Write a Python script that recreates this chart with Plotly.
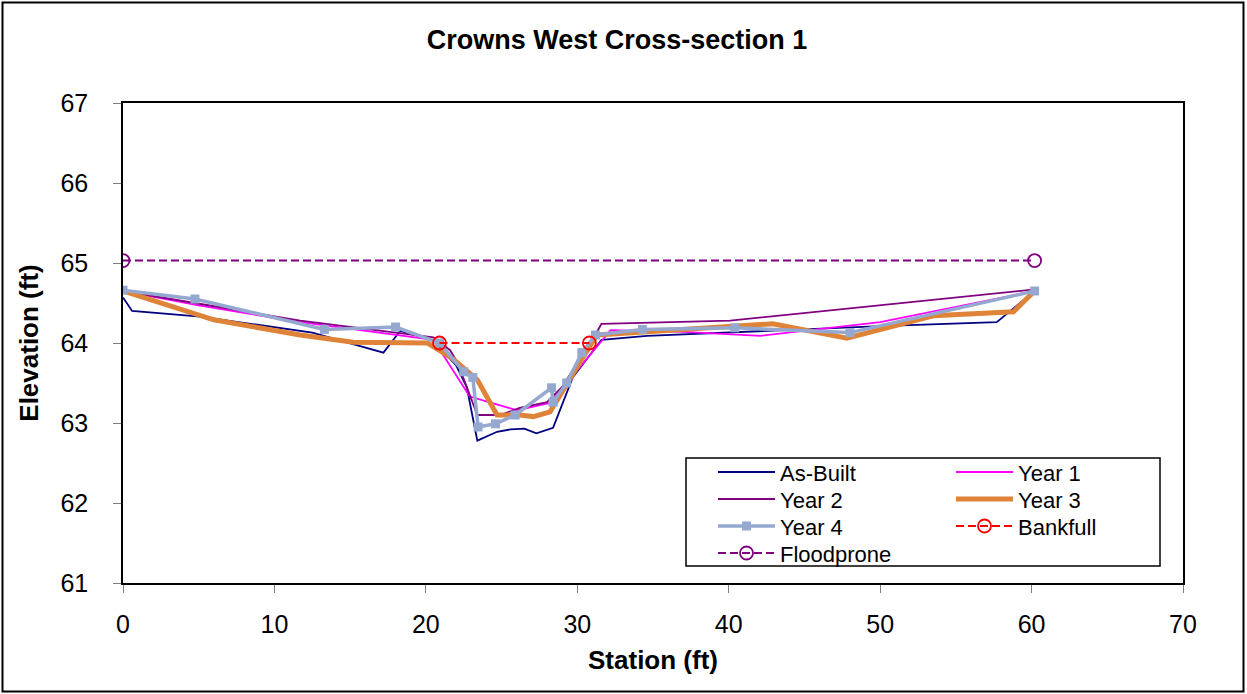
import plotly.graph_objects as go

# ---------------- data ----------------
asbuilt_x = [0, 0.6, 5.1, 12.5, 17.2, 18.3, 20.5, 22.0, 22.7, 23.4, 24.7, 25.6, 26.5, 27.3, 28.4, 29.7, 31.6, 34.6, 50.0, 57.7, 60.2]
asbuilt_y = [64.57, 64.40, 64.33, 64.13, 63.88, 64.15, 64.03, 63.72, 63.45, 62.78, 62.89, 62.92, 62.93, 62.87, 62.94, 63.57, 64.04, 64.09, 64.21, 64.26, 64.65]

year1_x = [0, 5, 11.7, 20.5, 22.9, 26.0, 28.2, 32.2, 37.0, 42.1, 50.0, 60.2]
year1_y = [64.65, 64.47, 64.26, 64.04, 63.33, 63.16, 63.25, 64.16, 64.14, 64.09, 64.26, 64.65]

year2_x = [0, 11.7, 20.5, 21.6, 22.1, 22.7, 23.4, 24.9, 26.2, 28.0, 29.0, 31.3, 31.6, 40.1, 60.2]
year2_y = [64.65, 64.28, 64.07, 63.91, 63.75, 63.45, 63.10, 63.10, 63.19, 63.26, 63.45, 64.14, 64.24, 64.28, 64.67]

year3_x = [0, 6.0, 11.7, 15.2, 20.1, 21.8, 23.4, 24.7, 26.2, 27.1, 28.2, 29.3, 30.4, 31.3, 42.9, 47.8, 53.5, 58.8, 60.2]
year3_y = [64.65, 64.29, 64.10, 64.01, 64.00, 63.80, 63.54, 63.10, 63.10, 63.08, 63.14, 63.50, 63.83, 64.10, 64.24, 64.06, 64.34, 64.39, 64.65]

year4_x = [0, 4.75, 13.3, 18.0, 20.9, 22.5, 23.1, 23.45, 24.6, 25.9, 28.3, 28.4, 29.3, 30.3, 31.2, 34.3, 40.4, 48.0, 60.2]
year4_y = [64.66, 64.55, 64.17, 64.20, 64.00, 63.64, 63.57, 62.95, 62.99, 63.10, 63.44, 63.26, 63.50, 63.88, 64.10, 64.17, 64.19, 64.13, 64.65]

bankfull_x = [20.9, 30.8]
bankfull_y = [64.0, 64.0]

floodprone_x = [0, 60.2]
floodprone_y = [65.03, 65.03]

x_ticks = [0, 10, 20, 30, 40, 50, 60, 70]
y_ticks = [61, 62, 63, 64, 65, 66, 67]

# ---------------- layout geometry (pixels) ----------------
W, H = 1247, 694
L, R, T, B = 123, 1183, 103, 583
PW, PH = R - L, B - T


def px_x(p):
    return (p - L) / PW


def px_y(p):
    return (B - p) / PH


FONT = "Arial, Liberation Sans, sans-serif"
LEG_FS = 22
item_h = 1.3 * LEG_FS + 3
DASH = "8px,4px"

fig = go.Figure()

traces = [
    dict(name="As-Built", x=asbuilt_x, y=asbuilt_y, mode="lines",
         line=dict(color="#000080", width=1.8), legend="legend"),
    dict(name="Year 1", x=year1_x, y=year1_y, mode="lines",
         line=dict(color="#FF00FF", width=1.8), legend="legend2"),
    dict(name="Year 2", x=year2_x, y=year2_y, mode="lines",
         line=dict(color="#800080", width=1.8), legend="legend3"),
    dict(name="Year 3", x=year3_x, y=year3_y, mode="lines",
         line=dict(color="#DF8339", width=5), legend="legend4"),
    dict(name="Year 4", x=year4_x, y=year4_y, mode="lines+markers",
         line=dict(color="#95A9D0", width=3.5),
         marker=dict(symbol="square", size=9, color="#95A9D0"), legend="legend5"),
    dict(name="Bankfull", x=bankfull_x, y=bankfull_y, mode="lines+markers",
         line=dict(color="#FF0000", width=2, dash=DASH),
         marker=dict(symbol="circle-open", size=13, color="#FF0000", line=dict(width=1.8)),
         legend="legend6"),
    dict(name="Floodprone", x=floodprone_x, y=floodprone_y, mode="lines+markers",
         line=dict(color="#800080", width=2, dash=DASH),
         marker=dict(symbol="circle-open", size=13, color="#800080", line=dict(width=1.8)),
         legend="legend7"),
]
for t in traces:
    fig.add_trace(go.Scatter(**t))

# legend cells: (text-left px, row-center px)
col1_text, col2_text = 780, 1018
rows = [472, 499, 526, 553]
cells = {
    "legend": (col1_text, rows[0]),
    "legend2": (col2_text, rows[0]),
    "legend3": (col1_text, rows[1]),
    "legend4": (col2_text, rows[1]),
    "legend5": (col1_text, rows[2]),
    "legend6": (col2_text, rows[2]),
    "legend7": (col1_text, rows[3]),
}
ITEMW = 57
legends = {}
for key, (tx, cy) in cells.items():
    left = tx - (ITEMW + 10)
    top = cy - item_h / 2 - 5
    legends[key] = dict(
        x=px_x(left), y=px_y(top), xanchor="left", yanchor="top",
        bgcolor="rgba(0,0,0,0)", borderwidth=0,
        font=dict(family=FONT, size=LEG_FS, color="black"),
        itemwidth=ITEMW,
    )

fig.update_layout(
    width=W, height=H,
    margin=dict(l=L, r=W - R, t=T, b=H - B, pad=0, autoexpand=False),
    paper_bgcolor="white", plot_bgcolor="white",
    font=dict(family=FONT, color="black"),
    showlegend=True,
    title=dict(text="<b>Crowns West Cross-section 1</b>", x=617 / W, xanchor="center",
               y=1 - 40 / H, yanchor="middle", xref="container", yref="container",
               font=dict(family=FONT, size=27, color="black")),
    xaxis=dict(range=[0, 70], tickvals=x_ticks, showgrid=False, zeroline=False,
               showline=True, linecolor="black", linewidth=1.5, mirror=True,
               ticks="outside", ticklen=8, tickcolor="#808080", tickwidth=1,
               ticklabelstandoff=10,
               tickfont=dict(family=FONT, size=25, color="black"),
               title=dict(text="<b>Station (ft)</b>", standoff=14,
                          font=dict(family=FONT, size=26, color="black"))),
    yaxis=dict(range=[61, 67], tickvals=y_ticks, showgrid=False, zeroline=False,
               showline=True, linecolor="black", linewidth=1.5, mirror=True,
               ticks="outside", ticklen=8, tickcolor="#808080", tickwidth=1,
               ticklabelstandoff=20,
               tickfont=dict(family=FONT, size=25, color="black"),
               title=dict(text="<b>Elevation (ft)</b>", standoff=14,
                          font=dict(family=FONT, size=26, color="black"))),
    shapes=[
        dict(type="rect", xref="paper", yref="paper",
             x0=px_x(2.5), x1=px_x(1243.5), y0=px_y(691.5), y1=px_y(2.5),
             line=dict(color="black", width=2), fillcolor="rgba(0,0,0,0)", layer="above"),
        dict(type="rect", xref="paper", yref="paper",
             x0=px_x(686), x1=px_x(1160), y0=px_y(566), y1=px_y(458),
             line=dict(color="black", width=1.5), fillcolor="white", layer="above"),
    ],
    **legends,
)

fig.write_html(
    "out.html",
    config={"displayModeBar": False},
    post_script="document.body.style.margin='0';document.body.style.overflow='hidden';",
)
